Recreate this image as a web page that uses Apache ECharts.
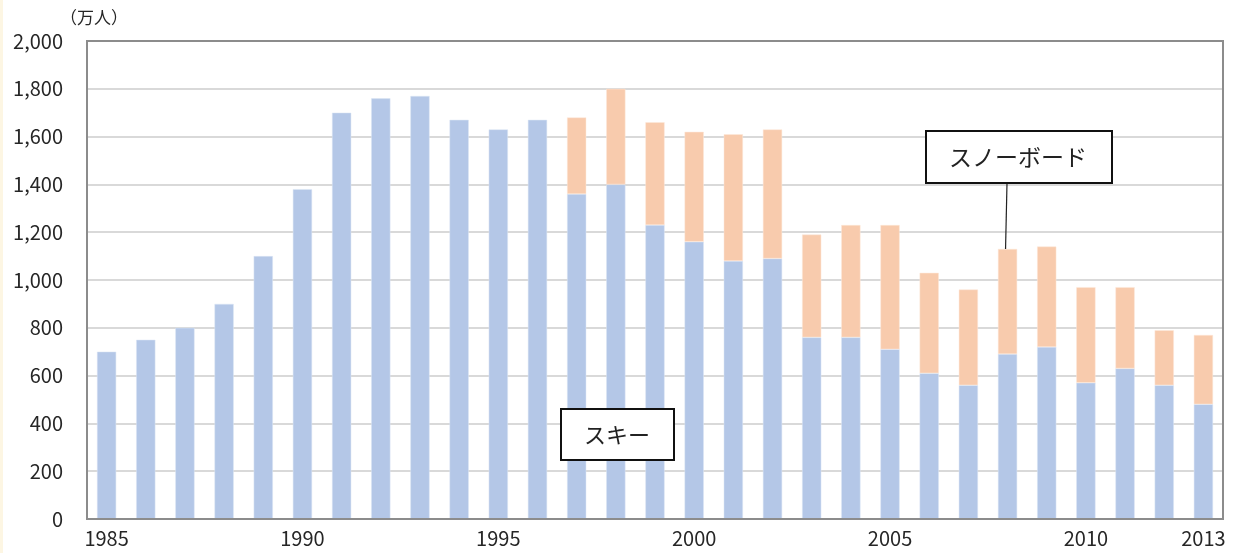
<!DOCTYPE html>
<html>
<head>
<meta charset="utf-8">
<script src="https://cdn.jsdelivr.net/npm/echarts@6/dist/echarts.min.js"></script>
<style>
html,body{margin:0;padding:0;background:#fff;}
#chart{width:1234px;height:553px;}
</style>
</head>
<body>
<div id="chart"></div>
<script>
const years = ['1985','1986','1987','1988','1989','1990','1991','1992','1993','1994','1995','1996','1997','1998','1999','2000','2001','2002','2003','2004','2005','2006','2007','2008','2009','2010','2011','2012','2013'];
const ski = [700,750,800,900,1100,1380,1700,1760,1770,1670,1630,1670,1360,1400,1230,1160,1080,1090,760,760,710,610,560,690,720,570,630,560,480];
const snowboard = [null,null,null,null,null,null,null,null,null,null,null,null,320,400,430,460,530,540,430,470,520,420,400,440,420,400,340,230,290];
const shownYears = ['1985','1990','1995','2000','2005','2010','2013'];

const FONT = '"Noto Sans CJK JP", "Noto Sans", sans-serif';
const chart = echarts.init(document.getElementById('chart'));

chart.setOption({
  animation: false,
  backgroundColor: '#ffffff',
  grid: {left: 87, right: 11, top: 41, bottom: 34, show: false},
  xAxis: {
    type: 'category',
    data: years,
    axisTick: {show: false},
    axisLine: {show: true, lineStyle: {color: '#8c8c8c', width: 2}},
    axisLabel: {
      interval: function(i, v){ return shownYears.indexOf(v) >= 0; },
      color: '#262626', fontSize: 20, fontFamily: FONT, margin: 9
    }
  },
  yAxis: {
    type: 'value',
    min: 0, max: 2000, interval: 200,
    axisLine: {show: false},
    axisTick: {show: false},
    splitLine: {lineStyle: {color: '#d9d9d9', width: 2}},
    axisLabel: {
      color: '#262626', fontSize: 20, fontFamily: FONT, margin: 24,
      formatter: function(v){ return v.toLocaleString('en-US'); }
    }
  },
  series: [
    {name: 'スキー', type: 'bar', stack: 't', data: ski, barWidth: '49%',
     itemStyle: {color: '#b4c7e7', borderColor: '#dde6f5', borderWidth: 0.5}},
    {name: 'スノーボード', type: 'bar', stack: 't', data: snowboard, barWidth: '49%',
     itemStyle: {color: '#f8cbad', borderColor: '#fde8da', borderWidth: 0.5}}
  ]
});

const lineEnd = chart.convertToPixel({gridIndex: 0}, ['2008', ski[23] + snowboard[23]]);
const rect = chart.getModel().getComponent('grid', 0).coordinateSystem.getRect();

chart.setOption({
  graphic: [
    {type: 'rect', left: 0, top: 0, shape: {width: 3, height: 553}, style: {fill: '#fdf6e3'}, silent: true},
    {type: 'rect', shape: {x: rect.x, y: rect.y, width: rect.width, height: rect.height}, style: {fill: null, stroke: '#8c8c8c', lineWidth: 2}, silent: true, z: 50},
    {type: 'text', left: 60, top: 9, style: {text: '（万人）', fontSize: 17, fontFamily: FONT, fill: '#262626'}},
    {type: 'line', shape: {x1: 1007, y1: 183, x2: lineEnd[0] - 2, y2: lineEnd[1]}, style: {stroke: '#222', lineWidth: 1.2}, z: 100},
    {type: 'rect', shape: {x: 926, y: 131, width: 186, height: 52}, style: {fill: '#fff', stroke: '#111', lineWidth: 2}, z: 100},
    {type: 'text', x: 1018, y: 157, style: {text: 'スノーボード', fontSize: 23, fontFamily: FONT, fill: '#222', align: 'center', verticalAlign: 'middle'}, z: 101},
    {type: 'rect', shape: {x: 561, y: 409, width: 113, height: 51}, style: {fill: '#fff', stroke: '#111', lineWidth: 2}, z: 100},
    {type: 'text', x: 617, y: 435, style: {text: 'スキー', fontSize: 22, fontFamily: FONT, fill: '#222', align: 'center', verticalAlign: 'middle'}, z: 101}
  ]
});
</script>
</body>
</html>
